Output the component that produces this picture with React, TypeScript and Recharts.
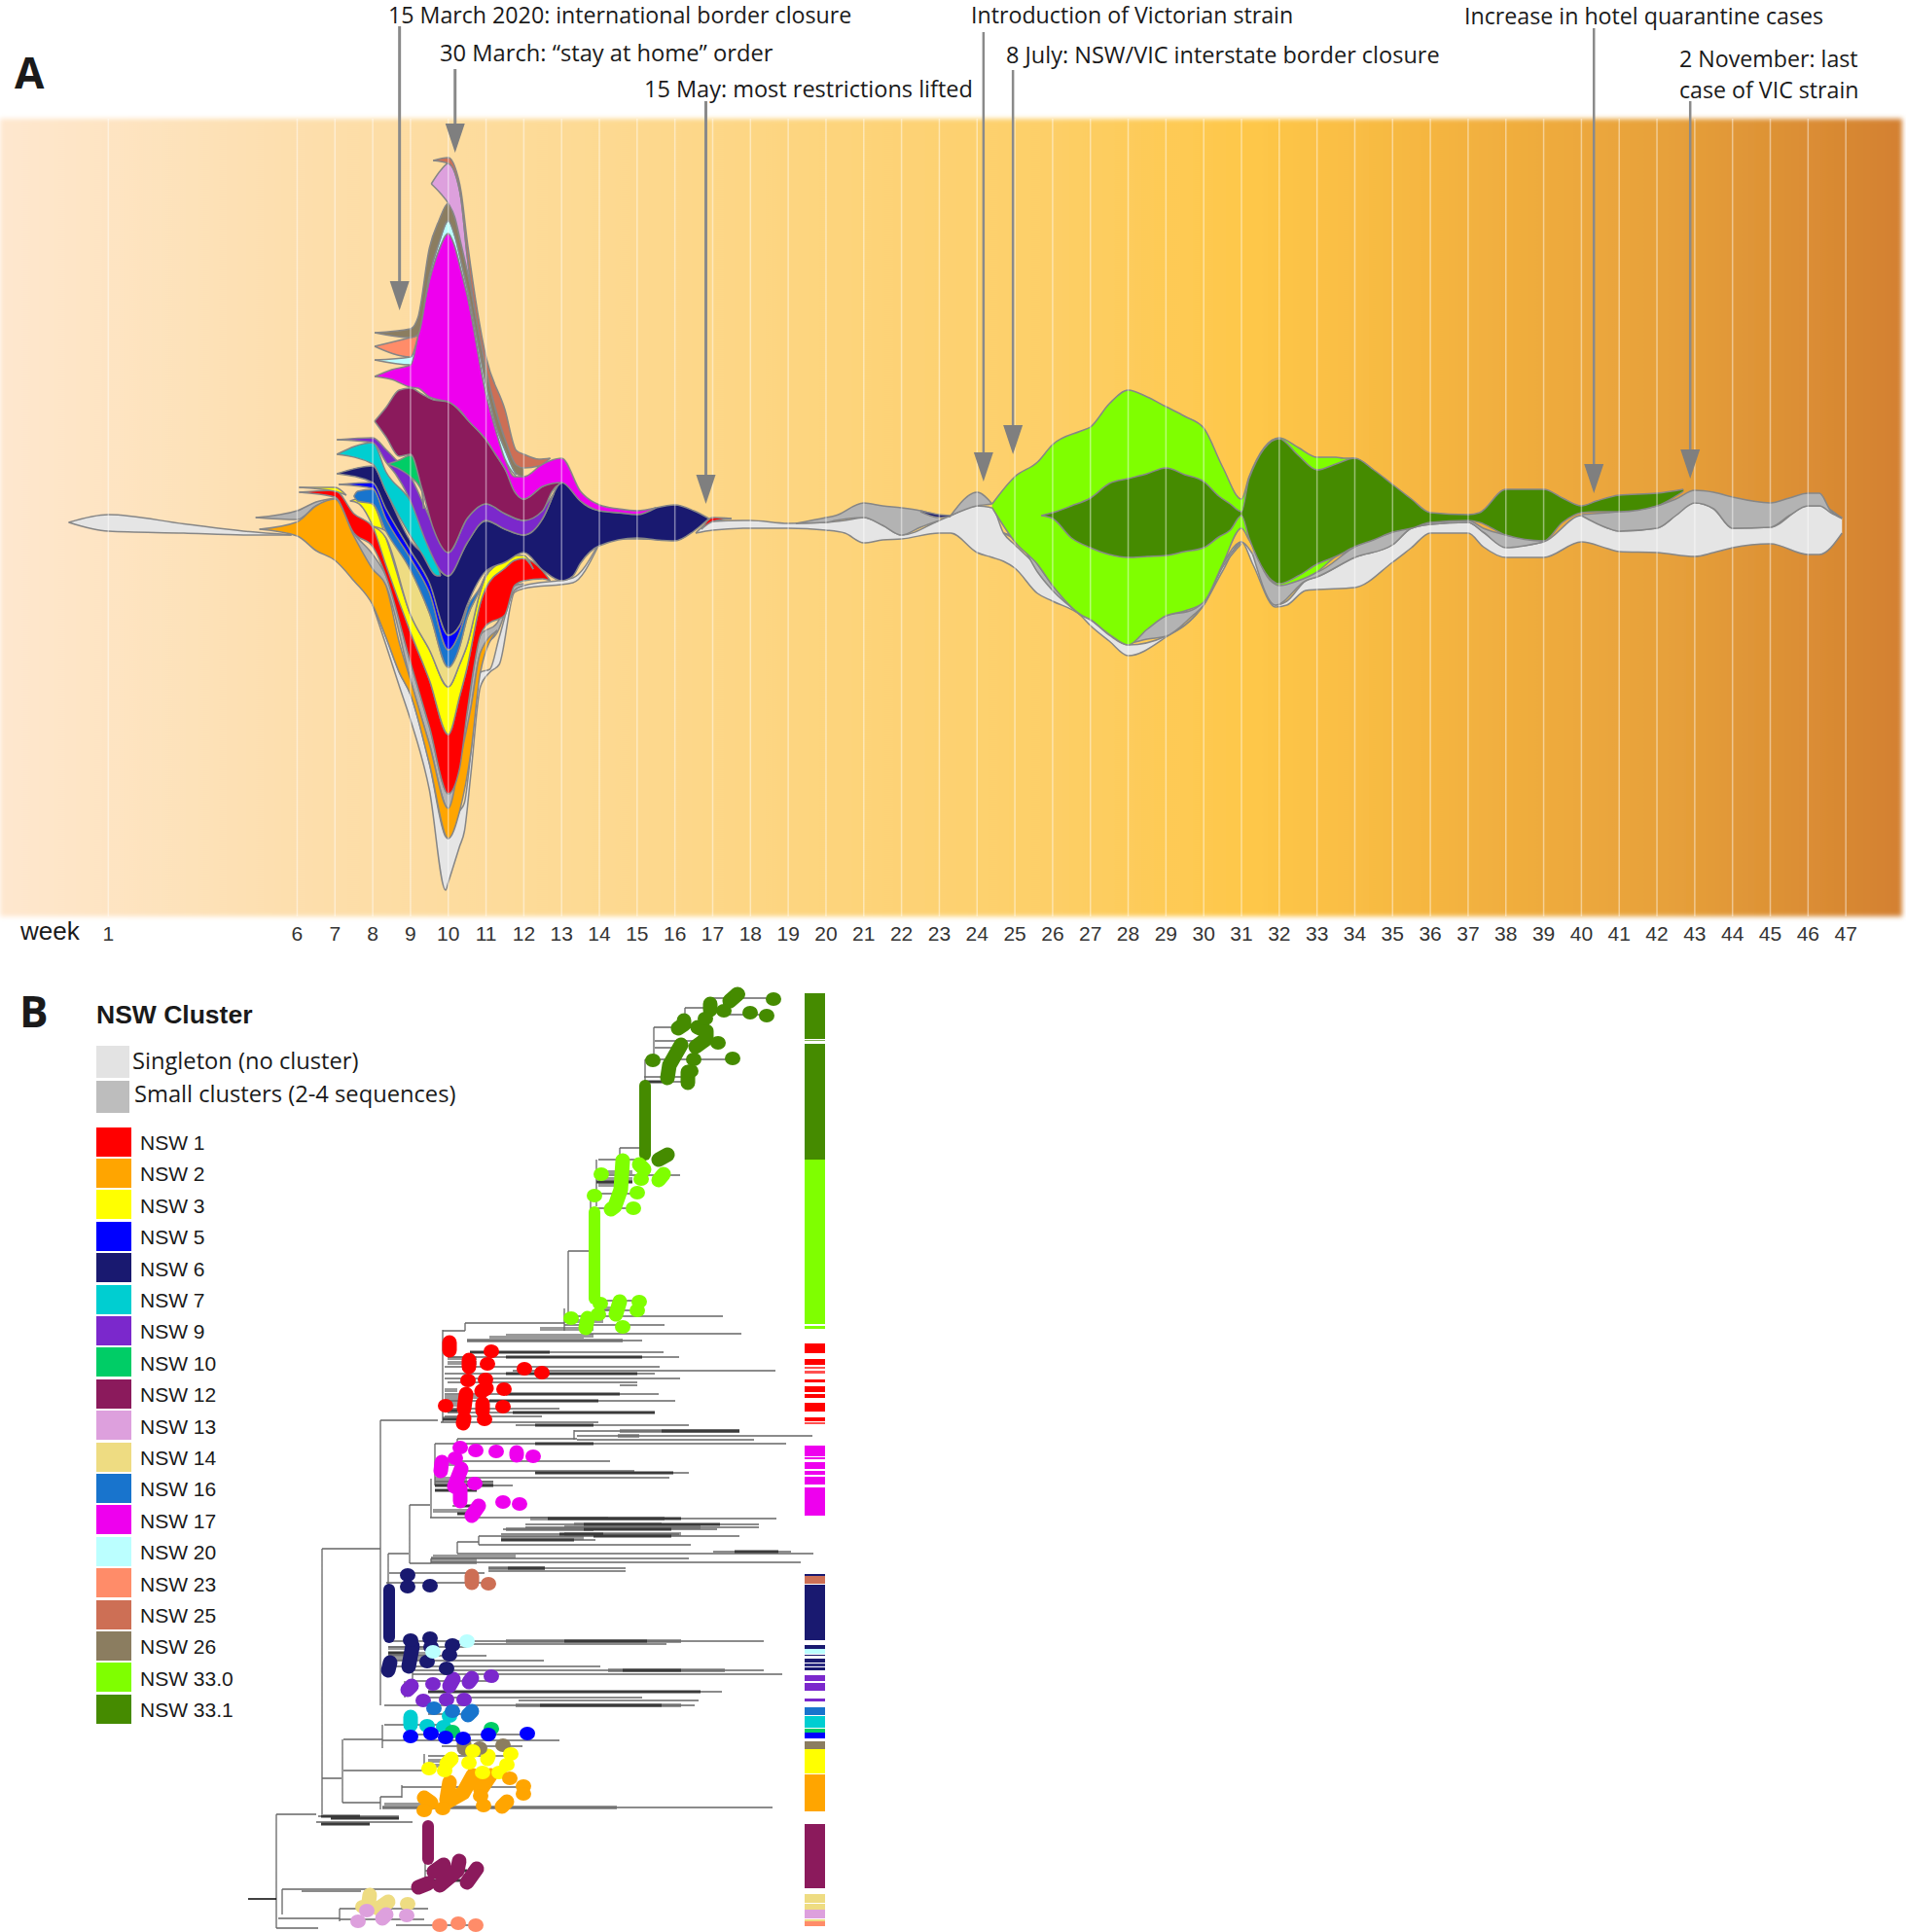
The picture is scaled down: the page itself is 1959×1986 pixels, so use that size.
import {
  ComposedChart,
  Area,
  Line,
  Scatter,
  XAxis,
  YAxis,
  ReferenceArea,
  ReferenceLine,
  ReferenceDot,
} from "recharts";

// ---- Panel A: weekly stream, each span is [week, lower edge, upper edge]
type Span = number[][];

const weekTicks = [1, 6, 7, 8, 9, 10, 11, 12, 13, 14, 15, 16, 17, 18, 19, 20, 21, 22, 23, 24, 25, 26, 27, 28, 29, 30, 31, 32, 33, 34, 35, 36, 37, 38, 39, 40, 41, 42, 43, 44, 45, 46, 47];

const singletonEarly: Span = [[-0.05, -2, -2], [1, -11, 6], [3, -13, -3.5], [4.58, -15, -11], [5.85, -15, -15]];
const singletonPeak: Span = [[8, -87, -87], [8.35, -128, -120], [8.7, -170, -156], [9, -205, -179], [9.5, -277, -250], [9.93, -380, -325], [10, -372, -327], [10.3, -335, -299], [10.43, -319, -290], [10.6, -260, -238], [10.85, -171, -156], [11.1, -156, -153], [11.35, -148, -120], [11.75, -74, -72], [12, -70, -67], [13.3, -64, -59], [13.95, -28, -26]];
const singletonLate: Span = [[16.55, -13, -13], [17, -10, -1], [18, -8, 0], [19, -8, -3], [20, -10, -2], [20.5, -13, 0], [21, -23, 3], [21.5, -20, -5], [22, -19, -15], [23, -13, 0], [23.3, -13, 5], [24, -33, 15], [24.4, -38, 13], [24.7, -42, -13], [25, -49, -25], [25.6, -75, -48], [26, -83, -68], [26.75, -98, -97], [27, -108, -102], [27.5, -124, -118], [28, -139, -128], [29, -120, -119], [30, -87, -85], [30.5, -52, -45], [31, -22, -22], [31.3, -45, -35], [31.9, -89, -87], [32.2, -87, -83], [32.7, -72, -62], [33, -71, -58], [34, -69, -38], [35, -43, -25], [35.5, -28, -8], [36, -13, -4], [37, -13, -2], [37.4, -27, -12], [38, -38, -27], [39, -38, -22], [40, -22, 5], [40.7, -29, -8], [41, -32, -11], [42, -33, -8], [43, -37, 18], [43.5, -33, 12], [44, -28, -8], [45, -24, -7], [46, -35, 15], [46.3, -35, 15], [46.9, -13, 2]];

const smallEarly: Span = [[4.9, 3, 3], [6, 1, 10], [6.5, 15, 19], [7, 22, 23]];
const smallPeak: Span = [[7, 22, 23], [7.5, -18, -13], [8, -51, -35], [8.35, -67, -57], [9, -164, -146], [9.5, -230, -212], [10, -296, -281], [10.5, -220, -197], [10.85, -136, -118], [11.3, -115, -105], [11.75, -72, -67], [12, -67, -65]];
const smallWinter: Span = [[19.2, -3, -3], [20, -2, 3], [20.25, 0, 5], [21, 3, 18], [21.5, -5, 15], [22, -15, 13], [22.5, -7, 10], [23, 0, 5]];
const smallBump: Span = [[23.3, 5, 5], [24, 15, 29], [24.4, 17, 17]];
const smallFlank: Span = [[24.7, -13, -13], [25.2, -27, -22], [25.6, -53, -45], [26, -72, -67], [26.75, -97, -96]];
const smallTrough: Span = [[28, -127, -127], [28.5, -122, -108], [29, -119, -98], [29.7, -98, -92], [30, -87, -83], [30.5, -48, -45], [31, -24, -22]];
const smallSpring: Span = [[31.3, -35, -25], [31.9, -87, -65], [32.7, -62, -55], [33, -58, -53], [34, -38, -27], [35, -25, -12], [35.5, -8, -5], [36, -4, -2], [37, -2, 0], [37.4, -12, -8], [38, -28, -15], [39, -22, -21]];
const smallTail: Span = [[40, 5, 6], [40.7, -8, 8], [41, -11, 9], [42, -8, 15], [42.5, 5, 22], [43, 18, 31], [43.5, 12, 29], [44, -8, 24], [45, -7, 18], [45.5, 5, 23], [46, 15, 28], [46.3, 15, 28], [46.6, 8, 10], [46.9, 2, 3]];

const nsw2: Span = [[5, -9, -9], [6, -16, -1.5], [6.5, -31, 15], [7, -41, 22], [7.5, -62, -16], [8, -87, -50], [8.35, -120, -67], [8.7, -156, -125], [9, -179, -164], [9.5, -250, -230], [10, -327, -296], [10.3, -299, -248], [10.6, -238, -192], [10.85, -156, -136], [11.3, -113, -113]];
const nsw1: Span = [[6.05, 29, 29], [7, 24, 31], [7.5, -13, 7], [8, -27, -7], [8.35, -57, -40], [9, -146, -115], [9.5, -212, -164], [10, -281, -220], [10.3, -255, -181], [10.5, -197, -151], [10.85, -118, -85], [11, -108, -69], [11.5, -97, -49], [11.75, -67, -41], [12, -62, -39], [12.5, -60, -52], [12.7, -62, -62]];
const nsw1Tail: Span = [[16.7, -9, -9], [17, -1, 3], [17.5, 2, 2]];
const nsw3Tip: Span = [[6.05, 34, 34], [7, 30, 34], [7.3, 26, 26]];
const nsw3: Span = [[7.4, 20, 20], [7.6, 18, 22], [8, -6, 17], [8.35, -46, -18], [9, -115, -97], [9.5, -164, -133], [10, -220, -171], [10.3, -181, -148], [10.5, -151, -128], [10.85, -85, -73], [11, -69, -57], [11.5, -49, -41], [11.75, -41, -36], [12, -39, -36], [12.25, -50, -50]];
const nsw3Tail: Span = [[14.4, -19, -19], [15, -19, -12], [15.7, -20, -20]];
const nsw14: Span = [[8, -6, -6], [8.35, -18, -11], [9, -97, -51], [9.5, -133, -95], [10, -171, -151], [10.3, -148, -130], [10.5, -128, -100], [10.85, -73, -70], [11, -57, -55], [11.5, -41, -38], [11.75, -36, -35]];
const nsw16: Span = [[7.5, 25, 25], [7.6, 20, 30], [8, 17, 32], [8.35, -11, 2], [9, -51, -39], [9.5, -95, -74], [10, -151, -133], [10.3, -130, -115], [10.5, -100, -90], [10.85, -70, -68], [11, -55, -55]];
const nsw5: Span = [[7.1, 37, 37], [8, 33, 39], [8.35, 2, 12], [9, -39, -31], [9.5, -74, -64], [10, -133, -118], [10.3, -115, -108], [10.5, -90, -88]];
const nsw6: Span = [[7.05, 48, 48], [8, 39, 56], [8.35, 12, 30], [9, -31, -21], [9.5, -64, -39], [10, -118, -57], [10.3, -108, -38], [10.5, -87, -23], [11, -52, -0.5], [11.5, -43, -9], [12, -33, -15], [12.5, -51, 2], [13, -62, 39], [13.3, -57, 32], [13.5, -44, 20], [14, -26, 10], [15, -18, 7], [15.5, -20, 13], [16, -21, 16], [16.5, -11, 10], [16.9, 2, 2]];
const nsw6Sliver: Span = [[22.5, 9, 10], [23, 3, 6], [23.3, 4, 5]];
const nsw7: Span = [[7.05, 68, 68], [8, 58, 80], [8.35, 30, 50], [9, -16, 20], [9.3, -34, -3], [9.7, -57, -44], [9.8, -57, -57]];
const nsw9: Span = [[7.05, 83, 83], [8, 80, 85], [8.35, 60, 73], [8.6, 48, 63], [9, 20, 45], [9.4, -21, 12], [9.8, -52, -22], [10, -57, -33], [10.5, -23, 2], [11, 0, 17], [11.5, -9, 7], [12, -15, 0], [12.5, 2, 12], [12.8, 28, 28]];
const nsw10: Span = [[8.4, 58, 58], [8.7, 53, 62], [9, 45, 67], [9.3, 30, 35], [9.35, 12, 12]];
const nsw12: Span = [[8.05, 102, 102], [8.35, 86, 116], [8.7, 66, 134], [9, 68, 136], [9.3, 33, 130], [9.6, -8, 124], [10, -33, 122], [10.5, 2, 104], [11, 17, 83], [11.5, 7, 53], [12, 0, 22], [12.5, 10, 35], [12.75, 30, 40], [13, 39, 39]];
const nsw17: Span = [[8.05, 148, 148], [8.5, 145, 155], [9, 137, 160], [9.2, 136, 191], [9.5, 127, 247], [9.75, 124, 278], [10, 122, 295], [10.17, 118, 282], [10.34, 112, 257], [10.5, 104, 232], [11, 83, 130], [11.25, 68, 94], [11.5, 53, 63], [11.75, 30, 45], [12, 22, 45], [12.5, 35, 58], [13, 39, 64], [13.5, 20, 30], [14, 10, 16], [14.5, 8, 12], [15, 6, 10], [15.5, 13, 13]];
const nsw20: Span = [[8.05, 165, 165], [9, 160, 168], [9.2, 191, 193], [9.5, 247, 252], [9.75, 278, 285], [10, 295, 308], [10.17, 282, 293], [10.34, 257, 266], [10.5, 232, 239], [11, 130, 140], [11.25, 94, 99], [11.5, 63, 73], [11.8, 45, 47]];
const nsw23: Span = [[8.05, 179, 179], [9, 168, 188], [9.2, 190, 190]];
const nsw26: Span = [[8.05, 193, 193], [9, 188, 197], [9.2, 191, 209], [9.5, 252, 280], [9.75, 285, 308], [10, 308, 326], [10.17, 293, 312], [10.34, 266, 284], [10.5, 239, 257], [11, 140, 155], [11.25, 99, 114], [11.5, 73, 84], [11.8, 48, 63], [12, 45, 54]];
const nsw13: Span = [[9.55, 346, 346], [9.8, 336, 360], [10, 326, 367], [10.17, 312, 358], [10.34, 284, 330], [10.5, 257, 272], [11, 155, 155]];
const nsw25: Span = [[9.6, 370, 370], [10, 367, 373], [10.17, 358, 364], [10.34, 330, 338], [10.5, 272, 288], [11, 155, 168], [11.5, 84, 114], [11.8, 57, 72], [12, 54, 68], [12.4, 56, 63], [12.7, 64, 64]];
const nsw330: Span = [[24.4, 13, 17], [25, -22, 45], [25.6, -45, 60], [26, -67, 78], [26.75, -97, 92], [27, -102, 96], [27.5, -117, 120], [28, -128, 134], [28.5, -112, 127], [29, -98, 117], [29.5, -93, 107], [30, -84, 95], [30.5, -45, 55], [31, -8, 22], [31.2, -20, 45], [32, -67, 85], [32.5, -62, 75], [33, -53, 65], [33.5, -37, 65], [33.7, -33, 64], [34, -27, 64]];
const nsw331: Span = [[25.7, 5, 5], [26, 2, 8], [26.5, -18, 15], [27, -28, 23], [27.5, -35, 38], [28, -38, 43], [28.5, -37, 48], [29, -36, 54], [29.5, -32, 47], [30, -28, 40], [30.4, -17, 25], [30.7, -10, 17], [31, 5, 9], [31.2, -18, 43], [32, -65, 84], [32.5, -57, 67], [33, -45, 52], [33.5, -37, 58], [34, -27, 64], [34.5, -20, 52], [35, -12, 37], [35.5, -8, 22], [36, -2, 8], [37, 0, 6], [37.3, -2, 8], [38, -15, 32], [39, -21, 32], [39.5, -2, 23], [40, 8, 15], [40.4, 9, 20], [41, 9, 26], [42, 15, 28], [42.7, 30, 32]];

const singletonColor = "#E5E5E5";
const smallColor = "#B3B3B3";

const streamBands: [string, string, Span][] = [
  ["s0", singletonColor, singletonEarly],
  ["s1", singletonColor, singletonPeak],
  ["s2", singletonColor, singletonLate],
  ["c0", smallColor, smallEarly],
  ["c1", smallColor, smallPeak],
  ["c2", smallColor, smallWinter],
  ["c3", smallColor, smallBump],
  ["c4", smallColor, smallFlank],
  ["c5", smallColor, smallTrough],
  ["c6", smallColor, smallSpring],
  ["c7", smallColor, smallTail],
  ["n2", "#FFA500", nsw2],
  ["n1", "#FF0000", nsw1],
  ["n1b", "#FF0000", nsw1Tail],
  ["n3a", "#FFFF00", nsw3Tip],
  ["n3", "#FFFF00", nsw3],
  ["n3b", "#FFFF00", nsw3Tail],
  ["n14", "#EEDC82", nsw14],
  ["n16", "#1874CD", nsw16],
  ["n5", "#0000FF", nsw5],
  ["n6", "#191970", nsw6],
  ["n6b", "#191970", nsw6Sliver],
  ["n7", "#00CED1", nsw7],
  ["n9", "#7B28CC", nsw9],
  ["n10", "#00CD66", nsw10],
  ["n12", "#8B1A5C", nsw12],
  ["n17", "#EE00EE", nsw17],
  ["n20", "#BBFFFF", nsw20],
  ["n23", "#FF8C69", nsw23],
  ["n26", "#8B7D60", nsw26],
  ["n13", "#DDA0DD", nsw13],
  ["n25", "#CD6F55", nsw25],
  ["n330", "#7FFF00", nsw330],
  ["n331", "#458B00", nsw331],
];

function buildStreamRows() {
  const rows = new Map<number, Record<string, unknown>>();
  for (const [key, , span] of streamBands) {
    for (const [week, lo, hi] of span) {
      if (!rows.has(week)) rows.set(week, { week });
      rows.get(week)![key] = [lo, hi];
    }
  }
  return [...rows.values()].sort((a, b) => (a.week as number) - (b.week as number));
}

// events: week, where the arrow starts and where its tip lands
const arrowWeeks = [8.71, 10.18, 16.82, 24.17, 24.95, 40.33, 42.88];
const arrowTails = [508, 464, 431, 502, 463, 506, 431];
const arrowTips = [216, 378, 17, 40, 68, 28, 43];

const eventNotes: [string, number, number, number][] = [
  ["15 March 2020: international border closure", 399, 16, 23.2],
  ["30 March: \u201Cstay at home\u201D order", 452, 55, 23.7],
  ["15 May: most restrictions lifted", 662, 92, 23.5],
  ["Introduction of Victorian strain", 998, 16, 23.2],
  ["8 July: NSW/VIC interstate border closure", 1034, 57, 23.5],
  ["Increase in hotel quarantine cases", 1505, 17, 23.2],
  ["2 November: last", 1726, 61, 23.2],
  ["case of VIC strain", 1726, 93, 23.2],
];

// ---- Panel B: tree branches
const thinAcross = [[1026, 730, 795], [1043, 750, 788], [1036, 704, 730], [1056, 672, 723], [1070, 673, 738], [1077, 673, 693], [1089, 663, 753], [1107, 662, 710], [1112, 660, 707], [1180, 637, 660], [1192, 615, 663], [1208, 613, 699], [1227, 608, 655], [1242, 607, 650], [1286, 584, 607], [1337, 610, 657], [1347, 610, 655], [1353, 580, 743], [1360, 478, 580], [1362, 580, 683], [1368, 455, 478], [1371, 600, 762], [1378, 480, 660], [1390, 483, 682], [1395, 460, 698], [1405, 457, 678], [1409, 527, 797], [1412, 457, 673], [1417, 457, 699], [1421, 460, 655], [1424, 637, 655], [1433, 457, 677], [1440, 460, 694], [1448, 457, 575], [1452, 460, 673], [1456, 457, 557], [1462, 453, 615], [1465, 530, 708], [1460, 391, 450], [1471, 590, 760], [1476, 593, 835], [1479, 470, 593], [1480, 593, 775], [1484, 447, 808], [1502, 447, 627], [1512, 477, 652], [1514, 550, 708], [1519, 477, 688], [1523, 447, 507], [1527, 447, 527], [1547, 421, 442], [1548, 465, 493], [1560, 442, 625], [1561, 563, 798], [1567, 540, 780], [1570, 540, 780], [1572, 517, 737], [1577, 515, 698], [1579, 492, 760], [1583, 515, 612], [1585, 470, 492], [1588, 492, 710], [1597, 470, 836], [1595, 733, 813], [1602, 443, 708], [1606, 443, 823], [1607, 421, 443], [1597, 399, 420], [1612, 502, 643], [1615, 502, 643], [1617, 400, 498], [1627, 397, 507], [1592, 331, 391], [1687, 399, 785], [1690, 472, 685], [1693, 399, 480], [1702, 399, 500], [1707, 399, 559], [1713, 399, 617], [1717, 424, 785], [1721, 424, 804], [1728, 424, 509], [1739, 440, 742], [1745, 440, 660], [1748, 533, 718], [1753, 395, 714], [1762, 440, 480], [1773, 395, 460], [1783, 416, 540], [1788, 353, 393], [1789, 393, 575], [1795, 454, 537], [1820, 353, 434], [1805, 440, 525], [1828, 331, 351], [1853, 352, 391], [1847, 391, 413], [1837, 413, 537], [1858, 393, 794], [1865, 284, 325], [1867, 327, 410], [1873, 325, 424], [1942, 290, 428], [1923, 437, 490], [1933, 437, 485], [1962, 349, 440], [1973, 349, 436], [1972, 286, 349], [1979, 407, 492], [1982, 284, 327], [1944, 310, 371]];
const thinDown = [[704, 1036, 1057], [672, 1056, 1090], [663, 1089, 1112], [660, 1112, 1180], [637, 1180, 1192], [613, 1192, 1240], [607, 1227, 1337], [584, 1286, 1353], [580, 1345, 1368], [478, 1360, 1368], [455, 1367, 1462], [590, 1470, 1480], [470, 1479, 1485], [447, 1484, 1527], [443, 1520, 1560], [421, 1547, 1607], [399, 1597, 1630], [470, 1585, 1597], [443, 1602, 1607], [492, 1579, 1588], [391, 1460, 1753], [331, 1592, 1865], [352, 1788, 1853], [393, 1773, 1797], [436, 1803, 1822], [391, 1847, 1860], [413, 1835, 1848], [284, 1865, 1982], [290, 1942, 1968], [349, 1962, 1975], [437, 1913, 1937], [416, 1728, 1745], [424, 1717, 1728]];
const lightBundles = [[1375, 503, 600], [1378, 480, 640], [1440, 457, 480], [1561, 545, 683], [1858, 393, 634], [1602, 443, 490], [1606, 443, 490], [1612, 502, 560], [1471, 637, 760], [1476, 635, 657], [1567, 590, 680], [1570, 580, 720], [1577, 580, 700], [1572, 520, 570], [1687, 520, 700], [1717, 625, 745], [1753, 530, 700], [1205, 615, 650], [1212, 615, 650], [1218, 615, 640], [1396, 460, 490], [1401, 460, 490], [1429, 457, 470], [1436, 457, 500], [1444, 457, 475], [1458, 455, 480], [1505, 447, 470], [1520, 447, 480], [1524, 447, 507], [1553, 445, 485], [1572, 570, 610], [1581, 515, 600], [1600, 445, 530], [1604, 445, 490], [1694, 399, 440], [1700, 399, 450], [1705, 399, 440], [1855, 395, 450], [1810, 440, 470], [1815, 440, 465], [1345, 612, 640], [1358, 580, 620], [1366, 555, 610], [1373, 520, 610], [1376, 530, 600]];
const darkBundles = [[1390, 483, 565], [1395, 520, 660], [1412, 520, 655], [1433, 520, 637], [1440, 503, 615], [1452, 527, 673], [1465, 550, 610], [1471, 680, 760], [1484, 550, 610], [1514, 550, 692], [1527, 447, 507], [1561, 563, 700], [1567, 600, 740], [1572, 600, 690], [1579, 610, 690], [1577, 575, 620], [1583, 515, 590], [1612, 522, 560], [1595, 755, 800], [1687, 580, 665], [1717, 640, 700], [1739, 440, 720], [1753, 555, 680], [1923, 445, 480], [1933, 445, 480], [1867, 330, 370], [1215, 613, 650], [1112, 662, 690], [1459, 455, 480], [1450, 457, 470], [1532, 447, 490], [1548, 470, 490], [1556, 470, 485], [1869, 340, 410], [1699, 399, 430], [1875, 330, 380]];
const rootStub = [[1952, 255, 284]];

// main stems: colour, column, from, to
const stemBlocks: [string, number, number, number][] = [
  ["#458B00", 663, 1116, 1187],
  ["#7FFF00", 611, 1246, 1335],
  ["#191970", 400, 1634, 1683],
  ["#8B1A5C", 440, 1877, 1911],
];

// tips of each cluster, then runs of overlapping tips
const tips331 = [[795, 1027], [758, 1022], [744, 1039], [771, 1041], [788, 1044], [725, 1047], [738, 1072], [713, 1089], [753, 1088], [671, 1090], [710, 1101]];
const runs331 = [[[730, 1032], [730, 1038]], [[703, 1049], [703, 1053], [697, 1057]], [[717, 1056], [726, 1060], [726, 1068], [715, 1076]], [[700, 1074], [688, 1095], [686, 1108]], [[677, 1192], [686, 1187]], [[707, 1102], [707, 1113]], [[750, 1029], [758, 1022]]];
const tips330 = [[618, 1207], [659, 1212], [655, 1226], [611, 1229], [651, 1242], [617, 1340], [615, 1351], [657, 1338], [655, 1347], [587, 1355], [640, 1364]];
const runs330 = [[[640, 1193], [638, 1223], [632, 1240], [628, 1243]], [[657, 1197], [662, 1202]], [[682, 1207], [677, 1213]], [[637, 1338], [633, 1351]], [[604, 1355], [602, 1365]]];
const tips1 = [[505, 1389], [501, 1402], [539, 1407], [557, 1411], [481, 1419], [499, 1418], [518, 1428], [458, 1445], [517, 1446], [498, 1459]];
const runs1 = [[[462, 1380], [462, 1388]], [[482, 1398], [482, 1405]], [[500, 1427], [495, 1430]], [[479, 1433], [477, 1448]], [[496, 1443], [496, 1450]], [[477, 1458], [476, 1463]]];
const tips17 = [[473, 1488], [489, 1491], [510, 1492], [548, 1497], [468, 1499], [488, 1525], [517, 1544], [534, 1546]];
const runs17 = [[[454, 1503], [453, 1512]], [[474, 1510], [467, 1528]], [[473, 1530], [473, 1543]], [[492, 1548], [485, 1558]], [[531, 1493], [531, 1496]]];
const tips6 = [[419, 1619], [419, 1631], [442, 1630], [422, 1686], [442, 1684], [443, 1693], [465, 1691], [462, 1701], [439, 1708], [459, 1715]];
const runs6 = [[[424, 1692], [420, 1713]], [[401, 1709], [399, 1717]]];
const tips20 = [[480, 1687], [445, 1698]];
const tips25 = [[502, 1628]];
const runs25 = [[[485, 1620], [485, 1627]]];
const tips9 = [[505, 1723], [445, 1731], [435, 1748], [459, 1747], [477, 1747]];
const runs9 = [[[485, 1725], [482, 1729]], [[466, 1726], [462, 1733]], [[423, 1733], [419, 1737]]];
const tips16 = [[446, 1756], [465, 1759]];
const runs16 = [[[485, 1759], [481, 1763]]];
const tips7 = [[439, 1774], [456, 1775], [462, 1764]];
const runs7 = [[[422, 1765], [422, 1773]]];
const tips10 = [[465, 1780], [505, 1777]];
const tips5 = [[422, 1785], [443, 1782], [458, 1786], [476, 1787], [502, 1783], [542, 1782]];
const tips26 = [[493, 1797], [517, 1794]];
const runs26 = [[[477, 1792], [477, 1797]]];
const tips3 = [[486, 1800], [525, 1803], [521, 1814], [482, 1812], [457, 1820], [441, 1818], [496, 1822], [513, 1822]];
const runs3 = [[[502, 1805], [501, 1808]], [[464, 1808], [459, 1813]]];
const tips2 = [[524, 1828], [538, 1836], [538, 1844], [494, 1846], [436, 1861], [455, 1859], [497, 1856]];
const runs2 = [[[462, 1832], [459, 1850]], [[486, 1825], [476, 1843], [460, 1852]], [[504, 1825], [494, 1840]], [[436, 1848], [443, 1853]], [[521, 1852], [516, 1857]]];
const runs12 = [[[456, 1917], [446, 1924]], [[472, 1913], [470, 1923], [452, 1938]], [[490, 1921], [480, 1935]], [[440, 1936], [430, 1940]]];
const tips14 = [[419, 1957], [373, 1960]];
const runs14 = [[[380, 1948], [379, 1955]], [[399, 1955], [389, 1962]]];
const tips13 = [[377, 1964], [418, 1969], [368, 1975]];
const runs13 = [[[397, 1968], [393, 1972]]];
const tips23 = [[452, 1979], [471, 1977], [489, 1979]];

const clusterMarks: [string, number[][], number[][][]][] = [
  ["#458B00", tips331, runs331],
  ["#7FFF00", tips330, runs330],
  ["#FF0000", tips1, runs1],
  ["#EE00EE", tips17, runs17],
  ["#191970", tips6, runs6],
  ["#BBFFFF", tips20, []],
  ["#CD6F55", tips25, runs25],
  ["#7B28CC", tips9, runs9],
  ["#00CED1", tips7, runs7],
  ["#1874CD", tips16, runs16],
  ["#00CD66", tips10, []],
  ["#0000FF", tips5, []],
  ["#8B7D60", tips26, runs26],
  ["#FFFF00", tips3, runs3],
  ["#FFA500", tips2, runs2],
  ["#8B1A5C", [], runs12],
  ["#EEDC82", tips14, runs14],
  ["#DDA0DD", tips13, runs13],
  ["#FF8C69", tips23, []],
];

// annotation strip next to the tree: from, to, colour
const stripBlocks: [number, number, string][] = [
  [1021, 1068, "#458B00"], [1069, 1070, "#7FAF50"], [1073, 1192, "#458B00"], [1192, 1361, "#7FFF00"], [1363, 1366, "#7FFF00"],
  [1381, 1391, "#FF0000"], [1397, 1403, "#FF0000"], [1405, 1407, "#FF5050"], [1409, 1412, "#FF5050"], [1418, 1421, "#FF0000"], [1425, 1431, "#FF0000"], [1433, 1437, "#FF0000"], [1442, 1451, "#FF0000"], [1457, 1461, "#FF0000"], [1462, 1464, "#FF5050"],
  [1486, 1497, "#EE00EE"], [1498, 1500, "#EE00EE"], [1503, 1510, "#EE00EE"], [1512, 1516, "#EE00EE"], [1518, 1526, "#EE00EE"], [1529, 1558, "#EE00EE"],
  [1618, 1620, "#191970"], [1620, 1628, "#CD6F55"], [1629, 1686, "#191970"], [1691, 1695, "#191970"], [1695, 1700, "#BBFFFF"], [1701, 1702, "#191970"], [1705, 1709, "#191970"], [1710, 1713, "#2A2A80"], [1714, 1717, "#191970"],
  [1722, 1728, "#7B28CC"], [1730, 1738, "#7B28CC"], [1746, 1749, "#7B28CC"], [1755, 1763, "#1874CD"], [1764, 1776, "#00CED1"], [1777, 1781, "#00CD66"], [1781, 1787, "#0000FF"], [1790, 1798, "#8B7D60"], [1798, 1823, "#FFFF00"], [1824, 1862, "#FFA500"], [1875, 1941, "#8B1A5C"],
  [1947, 1956, "#EEDC82"], [1957, 1963, "#EEDC82"], [1963, 1972, "#DDA0DD"], [1973, 1975, "#EEDC82"], [1975, 1980, "#FF8C69"],
];

const legendNames = ["NSW 1", "NSW 2", "NSW 3", "NSW 5", "NSW 6", "NSW 7", "NSW 9", "NSW 10", "NSW 12", "NSW 13", "NSW 14", "NSW 16", "NSW 17", "NSW 20", "NSW 23", "NSW 25", "NSW 26", "NSW 33.0", "NSW 33.1"];
const legendColors = ["#FF0000", "#FFA500", "#FFFF00", "#0000FF", "#191970", "#00CED1", "#7B28CC", "#00CD66", "#8B1A5C", "#DDA0DD", "#EEDC82", "#1874CD", "#EE00EE", "#BBFFFF", "#FF8C69", "#CD6F55", "#8B7D60", "#7FFF00", "#458B00"];

const SANS = "'Liberation Sans', Arial, sans-serif";
const NOTE = "'Open Sans', sans-serif";

function segmentRows(across: number[][], down: number[][] = []) {
  const rows: { x: number; y: number | null }[] = [];
  for (const [y, x0, x1] of across) rows.push({ x: x0, y }, { x: x1, y }, { x: x1, y: null });
  for (const [x, y0, y1] of down) rows.push({ x, y: y0 }, { x, y: y1 }, { x, y: null });
  return rows;
}

function runRows(runs: number[][][]) {
  const rows: { x: number; y: number | null }[] = [];
  for (const run of runs) {
    for (const [x, y] of run) rows.push({ x, y });
    rows.push({ x: run[run.length - 1][0], y: null });
  }
  return rows;
}

function Label({ x, y, size, bold, font, children }: { x: number; y: number; size: number; bold?: boolean; font: string; children: string }) {
  return (
    <div
      style={{
        position: "absolute",
        left: x,
        top: y,
        transform: "translateY(-50%)",
        fontFamily: font,
        fontSize: size,
        fontWeight: bold ? 700 : 400,
        color: "#1a1a1a",
        whiteSpace: "nowrap",
        lineHeight: 1,
      }}
    >
      {children}
    </div>
  );
}

function ArrowHead(props: { cx?: number; cy?: number }) {
  const { cx = 0, cy = 0 } = props;
  return <polygon points={`${cx - 10},${cy - 30} ${cx + 10},${cy - 30} ${cx},${cy}`} fill="#7f7f7f" />;
}

function TipDot(props: { cx?: number; cy?: number; fill?: string }) {
  return <ellipse cx={props.cx} cy={props.cy} rx={8} ry={7} fill={props.fill} />;
}

function StreamPanel() {
  const rows = buildStreamRows();
  return (
    <ComposedChart
      width={1959}
      height={1000}
      data={rows}
      margin={{ top: 122, right: 4, bottom: 18, left: 0 }}
      style={{ position: "absolute", left: 0, top: 0 }}
    >
      <defs>
        <linearGradient id="seasonFill" x1="0" y1="0" x2="1" y2="0">
          <stop offset="0" stopColor="#FEE7CF" />
          <stop offset="0.15" stopColor="#FDDFAE" />
          <stop offset="0.35" stopColor="#FDD88C" />
          <stop offset="0.55" stopColor="#FDCF68" />
          <stop offset="0.66" stopColor="#FEC748" />
          <stop offset="0.78" stopColor="#F2B03F" />
          <stop offset="0.88" stopColor="#E6A03A" />
          <stop offset="1" stopColor="#D38030" />
        </linearGradient>
        <filter id="softEdge" x="-1%" y="-2%" width="102%" height="104%">
          <feGaussianBlur stdDeviation="2.5" />
        </filter>
      </defs>
      <XAxis
        dataKey="week"
        type="number"
        domain={[-1.868, 48.49]}
        allowDataOverflow
        ticks={weekTicks}
        interval={0}
        height={40}
        axisLine={false}
        tickLine={false}
        tickMargin={4}
        tick={{ fill: "#333", fontSize: 21, fontFamily: SANS }}
      />
      <YAxis hide type="number" domain={[-407, 413]} allowDataOverflow />
      <ReferenceArea
        x1={-1.868}
        x2={48.49}
        y1={-407}
        y2={413}
        fill="url(#seasonFill)"
        fillOpacity={1}
        stroke="none"
        filter="url(#softEdge)"
      />
      {streamBands.map(([key, color]) => (
        <Area
          key={key}
          dataKey={key}
          type="monotone"
          fill={color}
          fillOpacity={1}
          stroke="#868686"
          strokeWidth={1.5}
          connectNulls
          dot={false}
          activeDot={false}
          isAnimationActive={false}
        />
      ))}
      {weekTicks.map((w) => (
        <ReferenceLine key={w} x={w} stroke="#fff" strokeOpacity={0.45} strokeWidth={1.5} />
      ))}
      {arrowWeeks.map((w, i) => (
        <ReferenceLine
          key={`shaft-${w}`}
          ifOverflow="visible"
          stroke="#8a8a8a"
          strokeWidth={i < 3 ? 3 : 2.5}
          segment={[
            { x: w, y: arrowTails[i] },
            { x: w, y: arrowTips[i] + 25 },
          ]}
        />
      ))}
      {arrowWeeks.map((w, i) => (
        <ReferenceDot key={`head-${w}`} x={w} y={arrowTips[i]} ifOverflow="visible" shape={ArrowHead} />
      ))}
    </ComposedChart>
  );
}

function TreePanel() {
  return (
    <ComposedChart
      width={630}
      height={986}
      margin={{ top: 0, right: 0, bottom: 0, left: 0 }}
      style={{ position: "absolute", left: 250, top: 1000 }}
    >
      <XAxis hide dataKey="x" type="number" domain={[250, 880]} allowDataOverflow />
      <YAxis hide dataKey="y" type="number" domain={[1000, 1986]} reversed allowDataOverflow />
      {stripBlocks.map(([from, to, color], i) => (
        <ReferenceArea key={i} x1={827} x2={848} y1={from} y2={to} fill={color} fillOpacity={1} stroke="none" />
      ))}
      <Line
        data={segmentRows(lightBundles)}
        dataKey="y"
        stroke="#9a9a9a"
        strokeWidth={4}
        dot={false}
        activeDot={false}
        isAnimationActive={false}
      />
      <Line
        data={segmentRows(thinAcross, thinDown)}
        dataKey="y"
        stroke="#666"
        strokeWidth={1.3}
        dot={false}
        activeDot={false}
        isAnimationActive={false}
      />
      <Line
        data={segmentRows(darkBundles)}
        dataKey="y"
        stroke="#3a3a3a"
        strokeWidth={3}
        dot={false}
        activeDot={false}
        isAnimationActive={false}
      />
      <Line
        data={segmentRows(rootStub)}
        dataKey="y"
        stroke="#111"
        strokeWidth={1.6}
        dot={false}
        activeDot={false}
        isAnimationActive={false}
      />
      {stemBlocks.map(([color, x, from, to]) => (
        <Line
          key={`stem-${color}`}
          data={[{ x, y: from }, { x, y: to }]}
          dataKey="y"
          stroke={color}
          strokeWidth={12}
          strokeLinecap="round"
          dot={false}
          activeDot={false}
          isAnimationActive={false}
        />
      ))}
      {clusterMarks.map(([color, , runs]) =>
        runs.length ? (
          <Line
            key={`run-${color}`}
            data={runRows(runs)}
            dataKey="y"
            stroke={color}
            strokeWidth={15}
            strokeLinecap="round"
            strokeLinejoin="round"
            dot={false}
            activeDot={false}
            isAnimationActive={false}
          />
        ) : null
      )}
      {clusterMarks.map(([color, tips]) =>
        tips.length ? (
          <Scatter
            key={`tip-${color}`}
            data={tips.map(([x, y]) => ({ x, y }))}
            dataKey="y"
            fill={color}
            shape={TipDot}
            isAnimationActive={false}
          />
        ) : null
      )}
    </ComposedChart>
  );
}

export default function App() {
  return (
    <div style={{ position: "absolute", left: 0, top: 0, width: 1959, height: 1986, overflow: "hidden", background: "#fff" }}>
      <StreamPanel />
      <TreePanel />
      {eventNotes.map(([text, x, y, size]) => (
        <Label key={text} x={x} y={y} size={size} font={NOTE}>
          {text}
        </Label>
      ))}
      <Label x={15} y={74} size={44} bold font={NOTE}>A</Label>
      <Label x={20} y={1039} size={44} bold font={NOTE}>B</Label>
      <Label x={21} y={957} size={26} font={SANS}>week</Label>
      <Label x={99} y={1043} size={26.5} bold font={SANS}>NSW Cluster</Label>
      <div style={{ position: "absolute", left: 99, top: 1075, width: 34, height: 33, background: "#E3E3E3" }} />
      <div style={{ position: "absolute", left: 99, top: 1111, width: 34, height: 33, background: "#BDBDBD" }} />
      <Label x={136} y={1091} size={23.7} font={NOTE}>Singleton (no cluster)</Label>
      <Label x={138} y={1125} size={23.7} font={NOTE}>Small clusters (2-4 sequences)</Label>
      {legendNames.map((name, i) => (
        <div key={name}>
          <div style={{ position: "absolute", left: 99, top: 1158.5 + i * 32.4, width: 36, height: 30, background: legendColors[i] }} />
          <Label x={144} y={1174 + i * 32.4} size={21} font={SANS}>{name}</Label>
        </div>
      ))}
    </div>
  );
}
